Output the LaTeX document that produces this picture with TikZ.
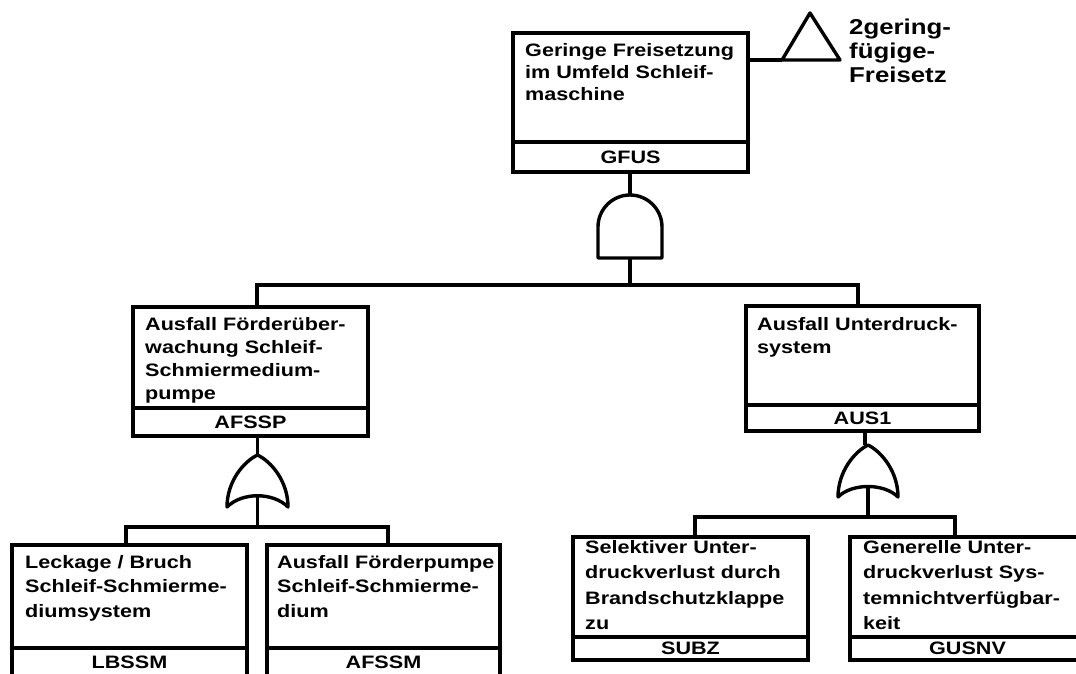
\documentclass[tikz,border=0pt]{standalone}
\usepackage{fontspec}
\newfontfamily\fbfont{Liberation Sans}[FakeStretch=1.2]
\usepackage{tikz}

\tikzset{
  evbox/.style={draw, line width=3.6pt, anchor=north west, outer sep=0pt, inner sep=0pt, minimum width=235pt},
  evid/.style={evbox, minimum height=#1, font=\fbfont\bfseries\fontsize{18}{22}\selectfont},
  evtext/.style={anchor=north west, align=left, inner sep=0pt, font=\fbfont\bfseries\fontsize{18}{#1}\selectfont},
  evtext/.default=23,
  conn/.style={line width=3.4pt},
  gate/.style={line width=3.4pt, line join=round, line cap=round}
}

\begin{document}
\begin{tikzpicture}[x=1pt,y=-1pt]
\fill[white] (0,0) rectangle (1076,673);
\useasboundingbox (0,0) rectangle (1076,673);

\node[evbox, minimum height=109pt] (gfus) at (513,33) {};
\node[evid=30pt] (gfus-id) at (gfus.south west) {GFUS};
\node[evtext=22] (gfus-t) at ([shift={(12,10)}]gfus.north west) {Geringe Freisetzung\\im Umfeld Schleif-\\maschine};

\coordinate (tri) at (782,60);
\draw[gate] (tri) -- ++(28,-47) -- ++(30,47) -- cycle;
\draw[conn] (tri) -- (tri -| gfus.east);
\node[anchor=north west, align=left, inner sep=0pt, font=\fbfont\bfseries\fontsize{21.5}{24}\selectfont] (frz) at (849,19) {2gering-\\fügige-\\Freisetz};

\coordinate (and1t) at (630,195);
\coordinate (and1b) at (630,258);
\draw[gate] (598,258) -- (598,227) arc[start angle=180, end angle=0, radius=32pt] -- (662,258) -- cycle;
\draw[conn] (and1t |- gfus-id.south) -- (and1t);

\node[evbox, minimum height=101pt] (afssp) at (133,307) {};
\node[evid=28pt] (afssp-id) at (afssp.south west) {AFSSP};
\node[evtext] (afssp-t) at ([shift={(12,10)}]afssp.north west) {Ausfall Förderüber-\\wachung Schleif-\\Schmiermedium-\\pumpe};

\node[evbox, minimum height=99pt, minimum width=233pt] (aus1) at (746,306) {};
\node[evid=26pt, minimum width=233pt] (aus1-id) at (aus1.south west) {AUS1};
\node[evtext] (aus1-t) at ([shift={(11,11)}]aus1.north west) {Ausfall Unterdruck-\\system};

\coordinate (j1) at (257,285);
\coordinate (j2) at (858,285);
\draw[conn] (and1b) -- (and1b |- j1);
\draw[conn] (j1 |- afssp.north) -- (j1) -- (j2) -- (j2 |- aus1.north);

% left branch
\coordinate (or1t) at (257.5,455);
\coordinate (or1b) at (257.5,496);
\draw[gate] (227,507) .. controls (227,482) and (243,462) .. (257.5,455) .. controls (272,462) and (288,482) .. (288,507) .. controls (273,492) and (242,492) .. (227,507);
\draw[conn] (or1t |- afssp-id.south) -- (or1t);

\node[evbox, minimum height=103pt] (lbssm) at (12,545) {};
\node[evid=28pt] (lbssm-id) at (lbssm.south west) {LBSSM};
\node[evtext=24.5] (lbssm-t) at ([shift={(13,10)}]lbssm.north west) {Leckage / Bruch\\Schleif-Schmierme-\\diumsystem};

\node[evbox, minimum height=103pt, minimum width=233pt] (afssm) at (267,545) {};
\node[evid=28pt, minimum width=233pt] (afssm-id) at (afssm.south west) {AFSSM};
\node[evtext=24.5] (afssm-t) at ([shift={(10,10)}]afssm.north west) {Ausfall Förderpumpe\\Schleif-Schmierme-\\dium};

\coordinate (j3) at (126,527);
\coordinate (j4) at (388,527);
\draw[conn] (or1b) -- (or1b |- j3);
\draw[conn] (j3 |- lbssm.north) -- (j3) -- (j4) -- (j4 |- afssm.north);

% right branch
\coordinate (or2t) at (868,445);
\coordinate (or2b) at (868,487);
\draw[gate] (838,497) .. controls (838,472) and (854,452) .. (868,445) .. controls (882,452) and (898,472) .. (898,497) .. controls (884,483) and (852,483) .. (838,497);
\draw[conn] (865,431) -- (865,445);

\node[evbox, minimum height=100pt] (subz) at (573,537) {};
\node[evid=23pt] (subz-id) at (subz.south west) {SUBZ};
\node[evtext=25.5] (subz-t) at ([shift={(12,3)}]subz.north west) {Selektiver Unter-\\druckverlust durch\\Brandschutzklappe\\zu};

\node[evbox, minimum height=100pt] (gusnv) at (850,537) {};
\node[evid=23pt] (gusnv-id) at (gusnv.south west) {GUSNV};
\node[evtext=25.5] (gusnv-t) at ([shift={(13,3)}]gusnv.north west) {Generelle Unter-\\druckverlust Sys-\\temnichtverfügbar-\\keit};

\coordinate (j5) at (695,517);
\coordinate (j6) at (955,517);
\draw[conn] (or2b) -- (or2b |- j5);
\draw[conn] (j5 |- subz.north) -- (j5) -- (j6) -- (j6 |- gusnv.north);
\end{tikzpicture}
\end{document}
